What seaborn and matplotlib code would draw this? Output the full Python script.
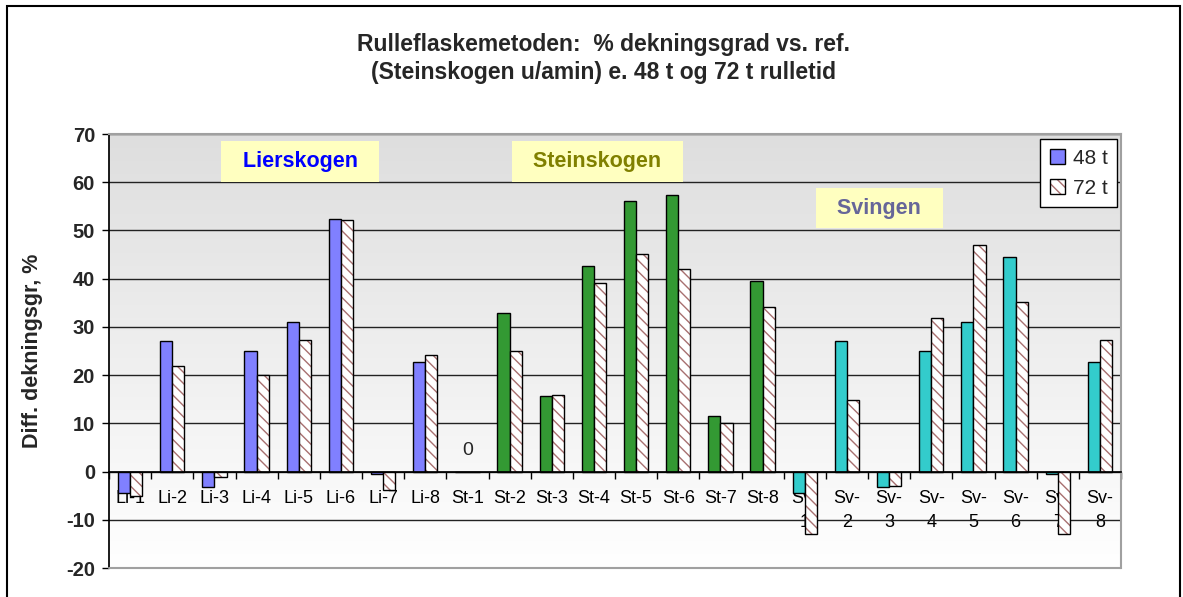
import numpy as np
import pandas as pd
import matplotlib
matplotlib.use('Agg')
import matplotlib.pyplot as plt
from matplotlib.patches import Rectangle, Patch
from matplotlib.colors import LinearSegmentedColormap
import seaborn as sns

# data
categories = ['Li-1', 'Li-2', 'Li-3', 'Li-4', 'Li-5', 'Li-6', 'Li-7', 'Li-8',
              'St-1', 'St-2', 'St-3', 'St-4', 'St-5', 'St-6', 'St-7', 'St-8',
              'Sv-\n1', 'Sv-\n2', 'Sv-\n3', 'Sv-\n4', 'Sv-\n5', 'Sv-\n6', 'Sv-\n7', 'Sv-\n8']
sites = ['Lierskogen'] * 8 + ['Steinskogen'] * 8 + ['Svingen'] * 8
vals_48 = [-4.5, 27.1, -3.3, 25.0, 31.1, 52.4, -0.5, 22.8,
           0.0, 32.9, 15.6, 42.7, 56.1, 57.3, 11.6, 39.6,
           -4.4, 27.1, -3.3, 25.0, 31.1, 44.5, -0.5, 22.8]
vals_72 = [-5.0, 21.9, -1.2, 20.1, 27.2, 52.1, -3.8, 24.1,
           0.0, 25.0, 15.8, 39.0, 45.1, 42.1, 10.1, 34.1,
           -13.0, 14.9, -3.0, 31.9, 46.9, 35.1, -13.0, 27.2]
series = ['48 t', '72 t']

site_colors = {'Lierskogen': '#8080ff', 'Steinskogen': '#339933', 'Svingen': '#33cccc'}
site_text = {'Lierskogen': '#0000ff', 'Steinskogen': '#808000', 'Svingen': '#666699'}
hatch_col = '#a87070'

df = pd.DataFrame({
    'category': categories * 2,
    'series': [series[0]] * len(categories) + [series[1]] * len(categories),
    'value': vals_48 + vals_72,
})

sns.set_theme(style='white')
plt.rcParams['font.family'] = ['Liberation Sans', 'DejaVu Sans']
plt.rcParams['axes.unicode_minus'] = False
plt.rcParams['hatch.linewidth'] = 1.0

fig = plt.figure(figsize=(11.83, 5.97), dpi=100)
ax = fig.add_axes([109 / 1183, 1 - 568 / 597, 1012 / 1183, 434 / 597])

# background gradient
cmap = LinearSegmentedColormap.from_list('bg', ['#dedede', '#ffffff'])
ax.imshow(np.linspace(0, 1, 256).reshape(-1, 1), cmap=cmap, aspect='auto',
          extent=[0, 1, 0, 1], transform=ax.transAxes, zorder=0)

sns.barplot(data=df, x='category', y='value', hue='series', order=categories,
            palette=['#8080ff', 'white'], width=0.58, gap=0, saturation=1,
            edgecolor='black', linewidth=1, errorbar=None, legend=False, ax=ax)

for p, s in zip(ax.containers[0], sites):
    p.set_facecolor(site_colors[s])

for p in ax.containers[1]:
    p.set_hatch('\\\\\\')
    p.set_edgecolor(hatch_col)
    p.set_linewidth(0)
    ax.add_patch(Rectangle((p.get_x(), p.get_y()), p.get_width(), p.get_height(),
                           fill=False, ec='black', lw=1, zorder=p.get_zorder()))

# data label for empty sample
for i, (a, b) in enumerate(zip(vals_48, vals_72)):
    if a == 0 and b == 0:
        ax.annotate(f'{a:g}', (i, 0), xytext=(0, 15), textcoords='offset points',
                    ha='center', va='center', fontsize=14)

ax.set_xlim(-0.5, len(categories) - 0.5)
ax.set_ylim(-20, 70)
ax.set_yticks(range(-20, 71, 10))
ax.grid(axis='y', color='#222222', lw=1)
ax.set_axisbelow(True)

ax.spines['bottom'].set_position(('data', 0))
ax.spines['bottom'].set_color('black')
ax.spines['left'].set_color('black')
for s in ['top', 'right']:
    ax.spines[s].set_color('#a0a0a0')
    ax.spines[s].set_linewidth(1.5)
ax.axhline(-20, color='#a0a0a0', lw=1.5, zorder=3, clip_on=False)

ax.set_xticks(range(len(categories)))
ax.set_xticklabels(categories, fontsize=13, linespacing=1.6)
ax.set_xticks(np.arange(-0.5, len(categories), 1), minor=True)
ax.tick_params(axis='x', which='major', length=0, pad=13, colors='black')
ax.tick_params(axis='x', which='minor', bottom=True, length=5, width=1,
               direction='out', color='black')
ax.tick_params(axis='y', left=True, length=5, width=1, direction='out',
               color='black', labelsize=14.5, pad=5)
for t in ax.get_yticklabels():
    t.set_fontweight('bold')

ax.set_xlabel('')
ax.set_ylabel('Diff. dekningsgr, %', fontsize=15.5, fontweight='bold')
ax.yaxis.set_label_coords(-0.065, 0.5)

# group labels
group_pos = {'Lierskogen': (4.03, 64.3), 'Steinskogen': (11.08, 64.3), 'Svingen': (17.77, 54.6)}
for name, (gx, gy) in group_pos.items():
    ax.text(gx, gy, '  ' + name + '  ', ha='center', va='center', fontsize=15.5,
            fontweight='bold', color=site_text[name], zorder=4,
            bbox=dict(boxstyle='square,pad=0.45', fc='#ffffc0', ec='none'))

handles = [Patch(fc='#8080ff', ec='black', lw=1),
           (Patch(fc='white', ec=hatch_col, hatch='\\\\\\', lw=0),
            Patch(fill=False, ec='black', lw=1))]
leg = ax.legend(handles=handles, labels=series, loc='upper right',
                bbox_to_anchor=(0.996, 0.988), fontsize=15, frameon=True,
                fancybox=False, framealpha=1, edgecolor='black',
                handlelength=0.75, handleheight=0.75, handletextpad=0.35,
                labelspacing=0.55, borderpad=0.45, borderaxespad=0)
leg.get_frame().set_linewidth(1)
leg.set_zorder(5)

fig.text(0.51, 1 - 45 / 597, 'Rulleflaskemetoden:  % dekningsgrad vs. ref.',
         ha='center', va='center', fontsize=16.5, fontweight='bold')
fig.text(0.51, 1 - 73 / 597, '(Steinskogen u/amin) e. 48 t og 72 t rulletid',
         ha='center', va='center', fontsize=16.5, fontweight='bold')

fig.add_artist(Rectangle((7 / 1183, -0.1), 1173 / 1183, 1.1 - 6 / 597,
                         transform=fig.transFigure, fill=False, ec='black', lw=1.5))

fig.savefig('out.png', dpi=100)
